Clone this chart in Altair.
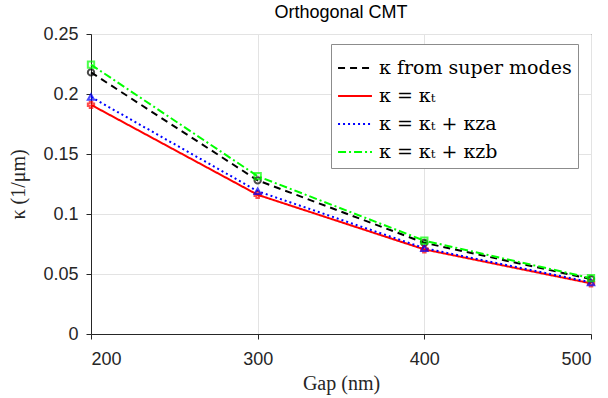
import altair as alt
import pandas as pd

gaps = [200, 300, 400, 500]
series_names = ["κ from super modes", "κ = κₜ", "κ = κₜ + κza", "κ = κₜ + κzb"]
k_super = [0.218, 0.128, 0.076, 0.0458]
k_t = [0.191, 0.116, 0.0705, 0.0422]
k_tza = [0.1975, 0.119, 0.0715, 0.0430]
k_tzb = [0.2245, 0.1315, 0.0778, 0.0465]
colors = ["#000000", "#ff0000", "#0000ff", "#00ff00"]
dashes = [[7, 5], [1, 0], [2, 3], [8, 3, 2, 3]]
shapes = ["circle", "cross", "triangle-up", "square"]

rows = []
for name, vals in zip(series_names, [k_super, k_t, k_tza, k_tzb]):
    for g, v in zip(gaps, vals):
        rows.append({"gap": g, "kappa": v, "series": name})
df = pd.DataFrame(rows)

legend_cfg = dict(title=None, orient="none", legendX=240, legendY=10,
                  symbolType="stroke", symbolSize=1150, symbolStrokeWidth=2,
                  labelFont="DejaVu Serif", labelFontSize=19, labelLimit=0,
                  labelColor="#000000", rowPadding=-4, padding=6, labelOffset=6,
                  fillColor="white", strokeColor="#8c8c8c")

x = alt.X("gap:Q", scale=alt.Scale(domain=[200, 500], nice=False),
          axis=alt.Axis(values=gaps, title="Gap  (nm)", format="d"))
y = alt.Y("kappa:Q", scale=alt.Scale(domain=[0, 0.25], nice=False),
          axis=alt.Axis(values=[0, 0.05, 0.1, 0.15, 0.2, 0.25], format="~g", title="κ (1/μm)"))
color = alt.Color("series:N", scale=alt.Scale(domain=series_names, range=colors),
                  legend=alt.Legend(**legend_cfg))
dash = alt.StrokeDash("series:N", scale=alt.Scale(domain=series_names, range=dashes),
                      legend=alt.Legend(**legend_cfg))

lines = alt.Chart(df).mark_line(strokeWidth=2).encode(x=x, y=y, color=color, strokeDash=dash)

layers = [lines]
for name, c, s in zip(series_names, colors, shapes):
    layers.append(
        alt.Chart(df).transform_filter(alt.datum.series == name)
        .mark_point(size=40, strokeWidth=2, filled=False, color=c, shape=s)
        .encode(x=x, y=y)
    )

chart = alt.layer(*layers).properties(
    width=500, height=300,
    title=alt.TitleParams("Orthogonal CMT", font="Liberation Sans", fontSize=18,
                          fontWeight="normal", color="#000000", offset=3),
    autosize=alt.AutoSizeParams(type="none"),
    padding={"left": 91, "top": 34, "right": 17, "bottom": 64},
).configure_view(stroke="#262626", strokeWidth=1).configure_axis(
    labelFont="Liberation Sans", labelFontSize=18, labelColor="#262626",
    titleFont="Liberation Serif", titleFontSize=20, titleFontWeight="normal", titleColor="#262626",
    domainColor="#262626", tickColor="#262626", tickSize=5, gridColor="#e3e3e3",
).configure_axisX(titlePadding=5, labelPadding=11).configure_axisY(titlePadding=14, labelPadding=8)

chart.save("out.html", embed_options={"renderer": "svg", "actions": False})
